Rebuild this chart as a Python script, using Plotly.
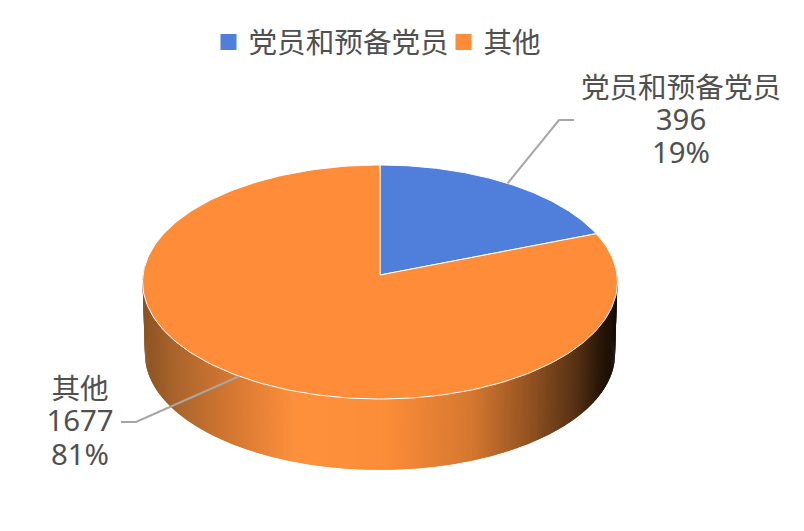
import math
import plotly.graph_objects as go

# data
labels = ['党员和预备党员', '其他']
values = [396, 1677]
colors = ['#507FDB', '#FF8C38']

# pie geometry in page pixels
cx, cy = 380, 275
rx, ry = 237, 116.6
persp = 0.0598
depth = 72
bottom_scale = 0.99

# side wall shading, (x, r, g, b) left to right
wall_stops = [
    (143, 140, 84, 36), (175, 172, 102, 44), (230, 214, 120, 50), (295, 255, 145, 60),
    (385, 252, 141, 57), (470, 214, 120, 48), (530, 145, 82, 34), (575, 88, 50, 20),
    (600, 42, 24, 9), (617, 22, 12, 4),
]

font_family = 'Noto Sans, Noto Sans CJK SC, sans-serif'
text_color = '#505050'
name_size = 28.6
number_size = 29.4


def project(theta, scale=1.0, shift=0.0):
    # theta in degrees, clockwise from 12 o'clock
    u = math.sin(math.radians(theta))
    v = math.cos(math.radians(theta))
    d = 1 + persp * v
    return cx + rx * scale * u / d, cy - ry * scale * v / d + shift


def wall_color(x):
    for a, b in zip(wall_stops, wall_stops[1:]):
        if x <= b[0]:
            t = max(0, (x - a[0]) / (b[0] - a[0]))
            return 'rgb(%d,%d,%d)' % tuple(a[i] + (b[i] - a[i]) * t for i in (1, 2, 3))
    return 'rgb(%d,%d,%d)' % wall_stops[-1][1:]


total = sum(values)
sweeps = [v / total * 360 for v in values]

fig = go.Figure()

# side wall, narrow overlapping strips along the front of the pie
wall_step = 0.75
wall_n = int(192 / wall_step)
for i in range(wall_n):
    t0 = 84 + i * wall_step
    t1 = t0 + wall_step * 2
    x0, y0 = project(t0)
    x1, y1 = project(t1)
    x2, y2 = project(t1, bottom_scale, depth)
    x3, y3 = project(t0, bottom_scale, depth)
    col = wall_color((x0 + x1) / 2)
    fig.add_trace(go.Scatter(
        x=[x0, x1, x2, x3, x0], y=[y0, y1, y2, y3, y0],
        mode='lines', fill='toself', fillcolor=col,
        line=dict(color=col, width=0),
        hoverinfo='skip', showlegend=False
    ))

# top faces
start = 0
mids = []
for name, sweep, col in zip(labels, sweeps, colors):
    angles = [start + sweep * k / 240 for k in range(241)]
    pts = [project(a) for a in angles]
    xs = [cx] + [p[0] for p in pts] + [cx]
    ys = [cy] + [p[1] for p in pts] + [cy]
    fig.add_trace(go.Scatter(
        x=xs, y=ys, mode='lines', fill='toself', fillcolor=col,
        line=dict(color='white', width=1),
        name=name, hoverinfo='name', showlegend=False
    ))
    mids.append(start + sweep / 2)
    start += sweep

# leader lines, start at the middle of each slice edge
leader_elbows = [[(559, 120), (574, 120)], [(136, 422), (121, 422)]]
for mid, elbow in zip(mids, leader_elbows):
    ax, ay = project(mid)
    fig.add_trace(go.Scatter(
        x=[ax] + [p[0] for p in elbow], y=[ay] + [p[1] for p in elbow],
        mode='lines', line=dict(color='#A6A6A6', width=2),
        hoverinfo='skip', showlegend=False
    ))

# data labels, one text per line
label_x = [681, 80]
label_y = [[91, 123, 156], [392, 424, 458]]
for name, val, lx, ly in zip(labels, values, label_x, label_y):
    lines = [name, str(val), '%d%%' % round(val / total * 100)]
    fig.add_trace(go.Scatter(
        x=[lx] * 3, y=ly, mode='text', text=lines, textposition='middle center',
        textfont=dict(family=font_family, size=[name_size, number_size, number_size], color=text_color),
        hoverinfo='skip', showlegend=False, cliponaxis=False
    ))

# legend entries
for name, col in zip(labels, colors):
    fig.add_trace(go.Scatter(
        x=[None], y=[None], mode='markers', name=name,
        marker=dict(color=col, symbol='square', size=16)
    ))

fig.update_layout(
    width=804, height=531,
    margin=dict(l=0, r=0, t=0, b=0),
    paper_bgcolor='white', plot_bgcolor='white',
    xaxis=dict(range=[0, 804], visible=False, fixedrange=True),
    yaxis=dict(range=[531, 0], visible=False, fixedrange=True),
    showlegend=True,
    legend=dict(
        orientation='h', x=208.5 / 804, xanchor='left', y=1 - 17 / 531, yanchor='top',
        entrywidth=190, entrywidthmode='pixels',
        font=dict(family=font_family, size=name_size, color=text_color),
        bgcolor='rgba(0,0,0,0)', itemclick=False, itemdoubleclick=False
    )
)

# the default page has a body margin, drop it so the figure fills the window
fig.write_html("out.html", config=dict(displayModeBar=False),
               post_script="document.body.style.margin='0';")
